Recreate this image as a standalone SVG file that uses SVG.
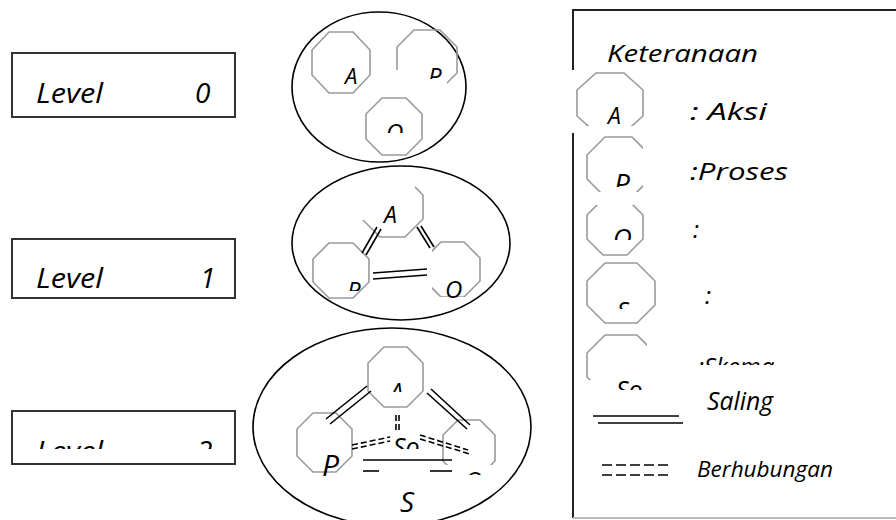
<svg xmlns="http://www.w3.org/2000/svg" width="896" height="520" viewBox="0 0 896 520">
<style>
.t{font-family:"Open Sans","DejaVu Sans",sans-serif;font-style:italic;fill:#000}
.box{fill:#fff;stroke:#333;stroke-width:2}
.ell{fill:none;stroke:#000;stroke-width:1.6}
.oct{fill:none;stroke:#9a9a9a;stroke-width:1.6}
.ln{stroke:#000;stroke-width:1.6;fill:none}
.dash{stroke:#000;stroke-width:1.6;fill:none;stroke-dasharray:6 3}
</style>
<defs>
<clipPath id="cP0"><rect x="380" y="20" width="90" height="50"/><rect x="447" y="60" width="20" height="40"/></clipPath>
<clipPath id="cP0t"><rect x="420" y="60" width="40" height="19"/></clipPath>
<clipPath id="cO0t"><rect x="370" y="110" width="50" height="23"/></clipPath>
<clipPath id="cA1"><rect x="355" y="220" width="75" height="25"/><rect x="415" y="185" width="15" height="45"/></clipPath>
<clipPath id="cP1t"><rect x="330" y="270" width="40" height="21"/></clipPath>
<clipPath id="cO1"><rect x="432" y="235" width="55" height="62"/></clipPath>
<clipPath id="cA2t"><rect x="380" y="370" width="40" height="22"/></clipPath>
<clipPath id="cSo2"><rect x="385" y="425" width="45" height="24"/></clipPath>
<clipPath id="cO2"><rect x="435" y="410" width="70" height="55"/></clipPath>
<clipPath id="cO2t"><rect x="455" y="460" width="40" height="15"/></clipPath>
<clipPath id="cL2"><rect x="20" y="420" width="210" height="29"/></clipPath>
<clipPath id="cLA"><rect x="570" y="65" width="80" height="61"/></clipPath>
<clipPath id="cLP"><rect x="570" y="130" width="73" height="62"/></clipPath>
<clipPath id="cLPt"><rect x="605" y="160" width="40" height="27"/></clipPath>
<clipPath id="cLO"><rect x="575" y="205" width="70" height="60"/></clipPath>
<clipPath id="cLOt"><rect x="605" y="215" width="40" height="25"/></clipPath>
<clipPath id="cLSt"><rect x="605" y="290" width="40" height="19"/></clipPath>
<clipPath id="cLSo"><rect x="575" y="330" width="72" height="50"/></clipPath>
<clipPath id="cLSot"><rect x="605" y="360" width="40" height="30"/></clipPath>
<clipPath id="cSk"><rect x="695" y="340" width="100" height="25"/></clipPath>
</defs>

<g id="level0">
<rect class="box" x="12" y="53" width="223" height="64"/>
<text class="t" x="36" y="103" font-size="28" textLength="67" lengthAdjust="spacingAndGlyphs">Level</text>
<text class="t" x="195" y="103" font-size="28">0</text>
</g>
<g id="level1">
<rect class="box" x="12" y="239" width="223" height="59"/>
<text class="t" x="36" y="288" font-size="28" textLength="67" lengthAdjust="spacingAndGlyphs">Level</text>
<text class="t" x="200" y="288" font-size="28">1</text>
</g>
<g id="level2">
<rect class="box" x="12" y="411" width="223" height="53"/>
<g clip-path="url(#cL2)">
<text class="t" x="36" y="461" font-size="28" textLength="67" lengthAdjust="spacingAndGlyphs">Level</text>
<text class="t" x="197" y="461" font-size="28">2</text>
</g>
</g>

<g id="diagram0">
<ellipse class="ell" cx="379" cy="87" rx="87" ry="75"/>
<g id="n0-A">
<polygon class="oct" points="329,32 353,32 370,50 370,75 353,93 329,93 312,75 312,50"/>
<text class="t" x="345" y="84" font-size="22">A</text>
</g>
<g id="n0-P">
<polygon class="oct" clip-path="url(#cP0)" points="414,30 440,30 457,47 457,73 440,90 414,90 397,73 397,47"/>
<text class="t" clip-path="url(#cP0t)" x="428" y="85" font-size="24">P</text>
</g>
<g id="n0-O">
<polygon class="oct" points="382,98 406,98 422,114 422,139 406,155 382,155 366,139 366,114"/>
<text class="t" clip-path="url(#cO0t)" x="386" y="141" font-size="24">O</text>
</g>
</g>

<g id="diagram1">
<ellipse class="ell" cx="401" cy="243" rx="109" ry="77"/>
<g id="n1-A">
<polygon class="oct" clip-path="url(#cA1)" points="380,177 405,177 423,195 423,219 405,237 380,237 362,219 362,195"/>
<text class="t" x="384" y="223" font-size="23">A</text>
</g>
<g id="n1-P">
<polygon class="oct" points="329,243 353,243 369,259 369,282 353,298 329,298 313,282 313,259"/>
<text class="t" clip-path="url(#cP1t)" x="347" y="299" font-size="24">P</text>
</g>
<g id="n1-O">
<polygon class="oct" clip-path="url(#cO1)" points="441,242 464,242 480,258 480,281 464,297 441,297 425,281 425,258"/>
<text class="t" x="445" y="298" font-size="24">O</text>
</g>
</g>

<g id="diagram2">
<ellipse class="ell" cx="392" cy="427" rx="139" ry="99"/>
<g id="n2-A">
<polygon class="oct" points="384,347 407,347 423,363 423,391 407,407 384,407 368,391 368,363"/>
<text class="t" clip-path="url(#cA2t)" x="390" y="400" font-size="24">A</text>
</g>
<g id="n2-P">
<polygon class="oct" points="313,413 336,413 352,429 352,456 336,472 313,472 297,456 297,429"/>
<text class="t" x="322" y="476" font-size="30">P</text>
</g>
<g id="n2-O">
<polygon class="oct" clip-path="url(#cO2)" points="458,420 480,420 495,435 495,461 480,476 458,476 443,461 443,435"/>
<text class="t" clip-path="url(#cO2t)" x="465" y="489" font-size="24">O</text>
</g>
<g id="n2-So">
<text class="t" clip-path="url(#cSo2)" x="393" y="456" font-size="25">So</text>
</g>
<g id="n2-S">
<text class="t" x="400" y="512" font-size="28">S</text>
</g>
</g>

<g id="connectors">
<line class="ln" x1="377" y1="227" x2="362" y2="253"/>
<line class="ln" x1="381" y1="229" x2="366" y2="255"/>
<line class="ln" x1="417" y1="227" x2="430" y2="248"/>
<line class="ln" x1="421" y1="226" x2="434" y2="247"/>
<line class="ln" x1="373" y1="273" x2="427" y2="269"/>
<line class="ln" x1="373" y1="279" x2="427" y2="275"/>

<line class="ln" x1="367" y1="386" x2="326" y2="419"/>
<line class="ln" x1="371" y1="391" x2="330" y2="424"/>
<line class="ln" x1="427" y1="393" x2="467" y2="429"/>
<line class="ln" x1="431" y1="389" x2="470" y2="425"/>
<line class="dash" x1="352" y1="445" x2="390" y2="437"/>
<line class="dash" x1="352" y1="449" x2="390" y2="441"/>
<line class="dash" x1="396" y1="415" x2="396" y2="432"/>
<line class="dash" x1="399" y1="415" x2="399" y2="432"/>
<line class="dash" x1="420" y1="435" x2="468" y2="450"/>
<line class="dash" x1="420" y1="439" x2="470" y2="454"/>
<line class="ln" x1="363" y1="460" x2="452" y2="460"/>
<line class="ln" x1="363" y1="471" x2="379" y2="471"/>
<line class="ln" x1="430" y1="471" x2="452" y2="471"/>
</g>

<g id="legend">
<path d="M573,70 V10 H896" stroke="#222" stroke-width="2" fill="none"/>
<path d="M573,133 V518" stroke="#222" stroke-width="2" fill="none"/>
<path d="M573,518 H896" stroke="#bbb" stroke-width="2" fill="none"/>
<text class="t" x="607" y="62" font-size="24" textLength="151" lengthAdjust="spacingAndGlyphs">Keteranaan</text>
<g id="leg-A">
<polygon class="oct" clip-path="url(#cLA)" points="596,73 624,73 643,90 643,116 624,133 596,133 577,116 577,90"/>
<text class="t" x="608" y="124" font-size="23">A</text>
<text class="t" x="690" y="120" font-size="24" textLength="77" lengthAdjust="spacingAndGlyphs">: Aksi</text>
</g>
<g id="leg-P">
<polygon class="oct" clip-path="url(#cLP)" points="605,137 632,137 650,155 650,179 632,197 605,197 587,179 587,155"/>
<text class="t" clip-path="url(#cLPt)" x="614" y="194" font-size="28">P</text>
<text class="t" x="690" y="180" font-size="24" textLength="98" lengthAdjust="spacingAndGlyphs">:Proses</text>
</g>
<g id="leg-O">
<polygon class="oct" clip-path="url(#cLO)" points="603,199 627,199 643,215 643,239 627,255 603,255 587,239 587,215"/>
<text class="t" clip-path="url(#cLOt)" x="613" y="247" font-size="26">O</text>
<text class="t" x="693" y="238" font-size="24">:</text>
</g>
<g id="leg-S">
<polygon class="oct" points="605,263 637,263 655,281 655,305 637,323 605,323 587,305 587,281"/>
<text class="t" clip-path="url(#cLSt)" x="617" y="319" font-size="24">S</text>
<text class="t" x="705" y="304" font-size="24">:</text>
</g>
<g id="leg-So">
<polygon class="oct" clip-path="url(#cLSo)" points="605,335 637,335 655,353 655,377 637,395 605,395 587,377 587,353"/>
<text class="t" clip-path="url(#cLSot)" x="616" y="399" font-size="25">So</text>
<text class="t" clip-path="url(#cSk)" x="698" y="375" font-size="24">:Skema</text>
</g>
<g id="leg-saling">
<line class="ln" x1="593" y1="416" x2="679" y2="416"/>
<line class="ln" x1="598" y1="423" x2="683" y2="423"/>
<text class="t" x="707" y="410" font-size="25" textLength="66" lengthAdjust="spacingAndGlyphs">Saling</text>
</g>
<g id="leg-berhubungan">
<line class="ln" x1="602" y1="465" x2="672" y2="465" stroke-dasharray="10 4"/>
<line class="ln" x1="602" y1="475" x2="672" y2="475" stroke-dasharray="10 4"/>
<text class="t" x="697" y="477" font-size="22" textLength="136" lengthAdjust="spacingAndGlyphs">Berhubungan</text>
</g>
</g>
</svg>
